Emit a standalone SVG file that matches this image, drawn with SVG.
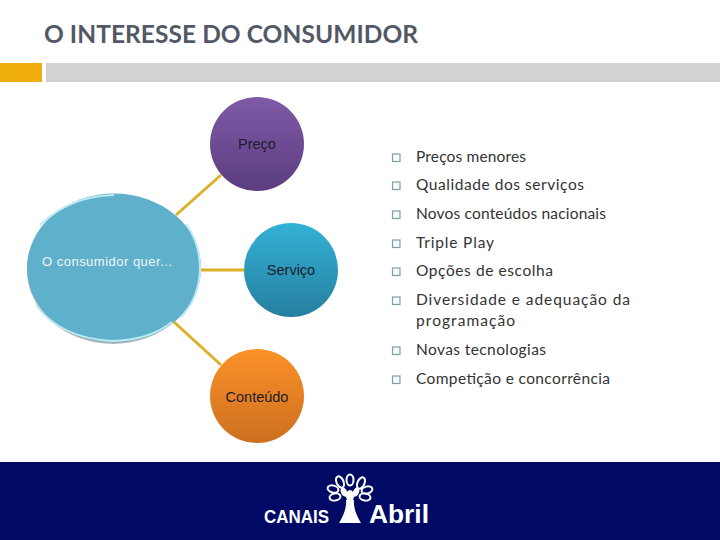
<svg xmlns="http://www.w3.org/2000/svg" width="720" height="540" viewBox="0 0 720 540">
<style>
.sans{font-family:"Liberation Sans",Arial,sans-serif}
.item{font-family:"Lato","Liberation Sans",sans-serif;font-size:15.5px;fill:#333}
.bul{fill:#f6fbfb;stroke:#7f9ea6;stroke-width:1.2}
.conn{stroke:#dcb028;stroke-width:3;fill:none}
.lbl{font-family:"Liberation Sans",Arial,sans-serif;font-size:14.5px;fill:#1c1c2c;text-anchor:middle}
.rim{fill:none;stroke:#bdeaf3;stroke-width:2}
</style>
<defs>
<linearGradient id="p" x1="0" y1="0" x2="0" y2="1"><stop offset="0" stop-color="#7f5aa6"/><stop offset="1" stop-color="#5c3d80"/></linearGradient>
<linearGradient id="b" x1="0" y1="0" x2="0" y2="1"><stop offset="0" stop-color="#33b1d6"/><stop offset="1" stop-color="#267f9e"/></linearGradient>
<linearGradient id="o" x1="0" y1="0" x2="0" y2="1"><stop offset="0" stop-color="#fb9229"/><stop offset="1" stop-color="#cc6f1f"/></linearGradient>
</defs>
<rect width="720" height="540" fill="#fff"/>
<text x="44" y="43" font-family="Lato,'Liberation Sans',sans-serif" font-weight="700" font-size="24.5" fill="#535866" textLength="374" lengthAdjust="spacing">O INTERESSE DO CONSUMIDOR</text>
<rect x="0" y="63" width="42" height="19" fill="#f0ad0e"/>
<rect x="46" y="63" width="674" height="19" fill="#d1d2d4"/>
<g id="connectors">
<line class="conn" x1="176" y1="215" x2="221" y2="175"/>
<line class="conn" x1="200" y1="270" x2="244" y2="270"/>
<line class="conn" x1="174" y1="322" x2="221" y2="365"/>
</g>
<g id="node-consumidor">
<ellipse cx="113" cy="270" rx="86" ry="74" fill="#8f9496" opacity=".65"/>
<ellipse cx="114" cy="268" rx="87" ry="74.5" fill="#5fb0ca"/>
<path class="rim" d="M40 225 Q70 196 114 195"/>
<path class="rim" d="M186 224 Q201 245 200 272 Q198 300 180 318"/>
<path class="rim" d="M36 305 Q60 338 112 341 Q150 340 172 322"/>
<text x="42" y="266" class="sans" font-size="13" fill="#eef6fa" textLength="130">O consumidor quer...</text>
</g>
<g id="node-preco"><circle cx="257" cy="144" r="47" fill="url(#p)"/><text x="257" y="149" class="lbl">Preço</text></g>
<g id="node-servico"><circle cx="291" cy="270" r="47" fill="url(#b)"/><text x="291" y="275" class="lbl">Serviço</text></g>
<g id="node-conteudo"><circle cx="257" cy="396" r="47" fill="url(#o)"/><text x="257" y="402" class="lbl">Conteúdo</text></g>
<g id="list">
<rect class="bul" x="392.500" y="154" width="7.500" height="7.500"/><text class="item" x="416" y="162" textLength="110">Preços menores</text>
<rect class="bul" x="392.500" y="182" width="7.500" height="7.500"/><text class="item" x="416" y="190" textLength="168">Qualidade dos serviços</text>
<rect class="bul" x="392.500" y="211" width="7.500" height="7.500"/><text class="item" x="416" y="219" textLength="190">Novos conteúdos nacionais</text>
<rect class="bul" x="392.500" y="240" width="7.500" height="7.500"/><text class="item" x="416" y="248" textLength="78">Triple Play</text>
<rect class="bul" x="392.500" y="268" width="7.500" height="7.500"/><text class="item" x="416" y="276" textLength="137">Opções de escolha</text>
<rect class="bul" x="392.500" y="297" width="7.500" height="7.500"/><text class="item" x="416" y="305" textLength="214">Diversidade e adequação da</text>
<text class="item" x="416" y="326" textLength="99">programação</text>
<rect class="bul" x="392.500" y="347" width="7.500" height="7.500"/><text class="item" x="416" y="355" textLength="130">Novas tecnologias</text>
<rect class="bul" x="392.500" y="376" width="7.500" height="7.500"/><text class="item" x="416" y="384" textLength="194">Competição e concorrência</text>
</g>
<rect x="0" y="462" width="720" height="78" fill="#000a64"/>
<g id="logo" fill="#fff">
<text x="264" y="523" class="sans" font-weight="700" font-size="18" textLength="65" lengthAdjust="spacingAndGlyphs">CANAIS</text>
<text x="369" y="523" class="sans" font-weight="700" font-size="26" textLength="60" lengthAdjust="spacingAndGlyphs">Abril</text>
<path d="M346 500 Q347 510 339 523 L361 523 Q353 510 354 500 Z"/>
<g fill="none" stroke="#fff" stroke-width="2">
<ellipse cx="340" cy="482" rx="3.500" ry="6" transform="rotate(-25 340 482)"/>
<ellipse cx="350" cy="480" rx="3.500" ry="5.500"/>
<ellipse cx="361" cy="483" rx="3.500" ry="6" transform="rotate(25 361 483)"/>
<ellipse cx="333" cy="489" rx="5.500" ry="3.500" transform="rotate(15 333 489)"/>
<ellipse cx="367" cy="490" rx="5.500" ry="3.500" transform="rotate(-15 367 490)"/>
<ellipse cx="335" cy="497" rx="5.500" ry="3.500" transform="rotate(-10 335 497)"/>
<ellipse cx="365" cy="497" rx="5.500" ry="3.500" transform="rotate(10 365 497)"/>
</g>
<ellipse cx="344" cy="492" rx="3" ry="5" transform="rotate(-25 344 492)"/>
<ellipse cx="356" cy="492" rx="3" ry="5" transform="rotate(25 356 492)"/>
<ellipse cx="350" cy="496" rx="4" ry="6"/>
</g>
</svg>
